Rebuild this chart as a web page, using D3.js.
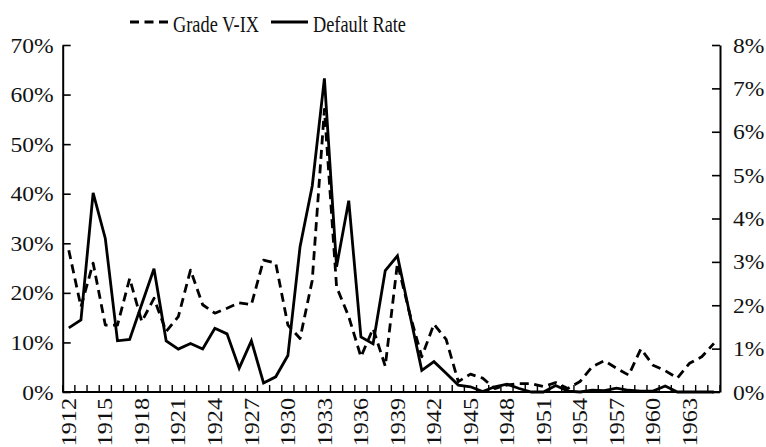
<!DOCTYPE html>
<html>
<head>
<meta charset="utf-8">
<script src="https://cdn.jsdelivr.net/npm/d3@7"></script>
<style>
  html, body { margin: 0; padding: 0; background: #fff; }
  svg { display: block; }
</style>
</head>
<body>
<svg id="chart" width="766" height="447"></svg>
<script>
const years = [1912,1913,1914,1915,1916,1917,1918,1919,1920,1921,
  1922,1923,1924,1925,1926,1927,1928,1929,1930,1931,
  1932,1933,1934,1935,1936,1937,1938,1939,1940,1941,
  1942,1943,1944,1945,1946,1947,1948,1949,1950,1951,
  1952,1953,1954,1955,1956,1957,1958,1959,1960,1961,
  1962,1963,1964,1965];

// Grade V-IX share (%), left axis
const gradeVIX = [28.6,17.2,26.0,13.5,13.5,22.9,14.2,18.9,12.2,15.2,
  24.6,17.6,15.9,16.9,18.0,17.6,26.6,26.0,13.5,10.8,
  22.5,57.0,21.2,15.2,7.1,12.8,5.2,26.0,15.9,7.1,
  13.7,10.6,2.1,3.6,2.8,0.7,1.4,1.7,1.7,1.1,
  1.9,0.7,2.1,5.1,6.3,4.8,3.4,8.7,5.4,4.3,
  2.8,5.8,7.1,9.8];

// Default rate (%), right axis
const defaultRate = [1.48,1.66,4.59,3.54,1.18,1.21,2.03,2.84,1.18,0.99,
  1.12,0.99,1.47,1.34,0.55,1.18,0.21,0.35,0.84,3.35,
  4.75,7.23,2.89,4.41,1.27,1.11,2.80,3.14,1.81,0.50,
  0.70,0.43,0.16,0.12,0.01,0.12,0.18,0.08,0.00,0.00,
  0.15,0.02,0.00,0.04,0.03,0.09,0.04,0.02,0.02,0.14,
  0.00,0.00,0.00,0.00];

const leftTicks = [0,10,20,30,40,50,60,70];
const rightTicks = [0,1,2,3,4,5,6,7,8];
const labelYears = [1912,1915,1918,1921,1924,1927,1930,1933,1936,1939,1942,1945,1948,1951,1954,1957,1960,1963];
const seriesNames = ["Grade V-IX", "Default Rate"];

const svg = d3.select("#chart");
const L = 62.7, R = 720, T = 45, B = 392;
const serif = "'Liberation Serif', 'Times New Roman', serif";

const x = d3.scaleBand().domain(years).range([L, R]).paddingInner(0).paddingOuter(0);
const yL = d3.scaleLinear().domain([0, 70]).range([B, T]);
const yR = d3.scaleLinear().domain([0, 8]).range([B, T]);
const cx = d => x(d) + x.bandwidth() / 2;

function widen(sel, factor) {
  sel.each(function() {
    const len = this.getComputedTextLength();
    d3.select(this).attr("textLength", len * factor).attr("lengthAdjust", "spacingAndGlyphs");
  });
}

// Left axis
const gL = svg.append("g").attr("transform", `translate(${L},0)`)
  .call(d3.axisLeft(yL).tickValues(leftTicks).tickSizeInner(-8).tickSizeOuter(0)
    .tickPadding(9).tickFormat(d => d + "%"));
// Right axis
const gR = svg.append("g").attr("transform", `translate(${R},0)`)
  .call(d3.axisRight(yR).tickValues(rightTicks).tickSizeInner(-8).tickSizeOuter(0)
    .tickPadding(13).tickFormat(d => d + "%"));
[gL, gR].forEach(g => {
  g.select(".domain").attr("stroke", "#000").attr("stroke-width", 2);
  g.selectAll(".tick line").attr("stroke", "#000").attr("stroke-width", 1.6);
  g.selectAll(".tick text").attr("font-family", serif).attr("font-size", 22).attr("fill", "#111");
  widen(g.selectAll(".tick text"), 1.07);
});

// Bottom axis (category boundaries as ticks)
const gB = svg.append("g");
const boundaries = years.map(d => x(d)).concat([R]);
gB.selectAll("line.tk").data(boundaries).join("line").attr("class", "tk")
  .attr("x1", d => d).attr("x2", d => d).attr("y1", B).attr("y2", B - 7)
  .attr("stroke", "#000").attr("stroke-width", 1.4);
gB.append("line").attr("x1", L).attr("x2", R).attr("y1", B).attr("y2", B)
  .attr("stroke", "#000").attr("stroke-width", 2);
const yl = gB.selectAll("text").data(labelYears).join("text")
  .attr("transform", d => `translate(${cx(d)},${B + 6}) rotate(-90)`)
  .attr("text-anchor", "end").attr("dy", "0.34em")
  .attr("font-family", serif).attr("font-size", 21).attr("fill", "#111")
  .text(d => d);
widen(yl, 1.15);

// Lines
const gradeData = years.map((yr, i) => [yr, gradeVIX[i]]);
const defData = years.map((yr, i) => [yr, defaultRate[i]]);
svg.append("path").datum(gradeData)
  .attr("d", d3.line().x(d => cx(d[0])).y(d => yL(d[1])))
  .attr("fill", "none").attr("stroke", "#000").attr("stroke-width", 2.8)
  .attr("stroke-dasharray", "9,5.5").attr("stroke-linejoin", "round");
svg.append("path").datum(defData)
  .attr("d", d3.line().x(d => cx(d[0])).y(d => yR(d[1])))
  .attr("fill", "none").attr("stroke", "#000").attr("stroke-width", 2.8)
  .attr("stroke-linejoin", "miter");

// Legend
const lg = svg.append("g");
lg.append("line").attr("x1", 130).attr("x2", 168).attr("y1", 22).attr("y2", 22)
  .attr("stroke", "#000").attr("stroke-width", 2.8).attr("stroke-dasharray", "9,5.5");
lg.append("text").attr("x", 173).attr("y", 32).text(seriesNames[0])
  .attr("textLength", 86).attr("lengthAdjust", "spacingAndGlyphs");
lg.append("line").attr("x1", 271).attr("x2", 308).attr("y1", 22).attr("y2", 22)
  .attr("stroke", "#000").attr("stroke-width", 2.8);
lg.append("text").attr("x", 313).attr("y", 32).text(seriesNames[1])
  .attr("textLength", 93).attr("lengthAdjust", "spacingAndGlyphs");
lg.selectAll("text").attr("font-family", serif).attr("font-size", 24).attr("fill", "#111");
</script>
</body>
</html>
